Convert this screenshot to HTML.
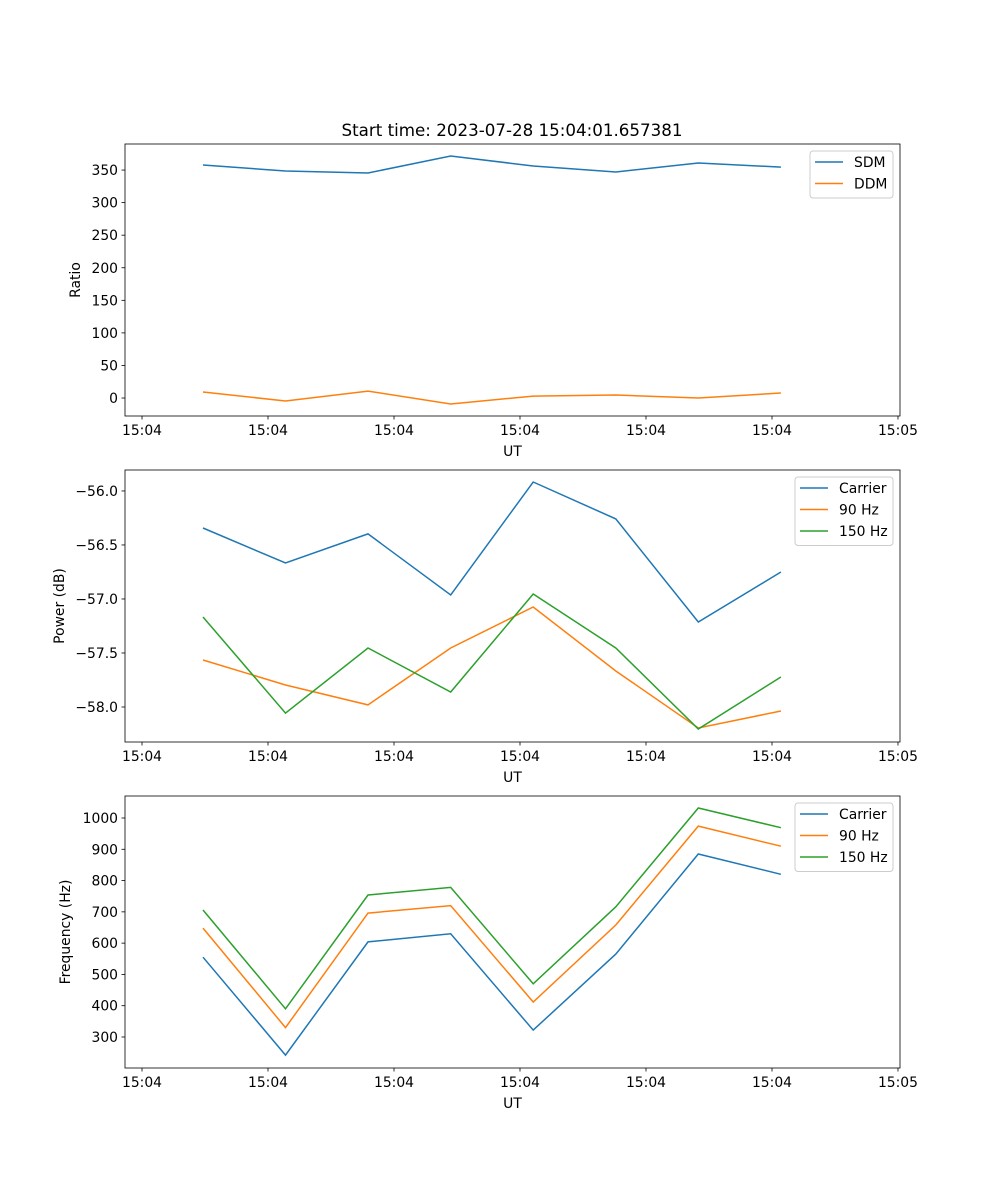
<!DOCTYPE html>
<html><head><meta charset="utf-8"><style>
body{margin:0;background:#fff}
svg{display:block;font-family:"DejaVu Sans","Liberation Sans",sans-serif}
</style></head><body>
<svg id="fig" width="1000" height="1200" xmlns="http://www.w3.org/2000/svg"></svg>
<script>
const times=[0.484,1.139,1.794,2.45,3.105,3.76,4.415,5.071];
const xTickVals=[0,1,2,3,4,5,6];
const xTickLabels=["15:04","15:04","15:04","15:04","15:04","15:04","15:05"];
const sdm=[357.7,348.5,345.4,371.5,356.2,347,360.8,354.6];
const ddm=[9.2,-4.6,10.7,-9.2,3,4.6,0,7.7];
const pCarrier=[-56.343,-56.667,-56.398,-56.963,-55.917,-56.259,-57.213,-56.75];
const p90=[-57.565,-57.796,-57.981,-57.454,-57.074,-57.667,-58.194,-58.037];
const p150=[-57.167,-58.056,-57.454,-57.861,-56.954,-57.454,-58.204,-57.722];
const fCarrier=[555,242,604,630,322,565,885,820];
const f90=[648,330,696,720,412,658,974,910];
const f150=[706,390,754,778,470,716,1032,969];
const ratioTicks=[0,50,100,150,200,250,300,350];
const powerTicks=[-58.0,-57.5,-57.0,-56.5,-56.0];
const freqTicks=[300,400,500,600,700,800,900,1000];

const NS="http://www.w3.org/2000/svg";
const fig=document.getElementById('fig');
function el(tag,attrs,parent,text){const e=document.createElementNS(NS,tag);for(const k in attrs)e.setAttribute(k,attrs[k]);if(text!==undefined)e.textContent=text;(parent||fig).appendChild(e);return e;}
const L=125,R=900,xmin=-0.135,xmax=6.016;
const sx=v=>L+(v-xmin)/(xmax-xmin)*(R-L);
const C=["#1f77b4","#ff7f0e","#2ca02c"];
const FS=13.9;

function panel(name,top,bot,ymin,ymax,yt,fmt,ylabel,series,names,leg){
  const g=el('g',{});
  
  
  const sy=v=>bot-(v-ymin)/(ymax-ymin)*(bot-top);
  series.forEach((s,i)=>{
    const pl=el('polyline',{points:s.map((v,j)=>sx(times[j]).toFixed(1)+','+sy(v).toFixed(1)).join(' '),fill:'none',stroke:C[i],'stroke-width':1.5},g);
    
    
  });
  const fr=el('rect',{x:L,y:top,width:R-L,height:bot-top,fill:'none',stroke:'#000','stroke-width':0.8},g);
  
  
  xTickVals.forEach((v,i)=>{
    const x=sx(v);
    el('line',{x1:x,x2:x,y1:bot,y2:bot+3.5,stroke:'#000','stroke-width':0.8},g);
    const t=el('text',{x:x,y:bot+19,'text-anchor':'middle','font-size':FS},g,xTickLabels[i]);
    
    
  });
  yt.forEach(v=>{
    const y=sy(v);
    el('line',{x1:L,x2:L-3.5,y1:y,y2:y,stroke:'#000','stroke-width':0.8},g);
    const t=el('text',{x:L-7,y:y+5,'text-anchor':'end','font-size':FS},g,fmt(v));
    
    
  });
  const xl=el('text',{x:(L+R)/2,y:bot+40,'text-anchor':'middle','font-size':FS},g,'UT');
  
  
  const cy=(top+bot)/2;
  const yl=el('text',{x:leg.yx,y:cy,'text-anchor':'middle','font-size':FS,transform:'rotate(-90 '+leg.yx+' '+cy+')'},g,ylabel);
  
  
  const lg=el('g',{},g);
  
  
  el('rect',{x:leg.x,y:top+7,width:R-7-leg.x,height:names.length*21.5+4,rx:3,fill:'#fff','fill-opacity':0.8,stroke:'#ccc'},lg);
  names.forEach((n,i)=>{
    const y=top+18+i*21.5;
    el('line',{x1:leg.x+5,x2:leg.x+33,y1:y,y2:y,stroke:C[i],'stroke-width':1.5},lg);
    const t=el('text',{x:leg.x+44,y:y+5,'font-size':FS},lg,n);
    
    
  });
}
const ti=el('text',{x:512,y:136,'text-anchor':'middle','font-size':16.7},fig,'Start time: 2023-07-28 15:04:01.657381');


panel('ratio',144,416,-27.6,390,ratioTicks,v=>String(v),'Ratio',[sdm,ddm],['SDM','DDM'],{x:810,yx:80});
panel('power',470,742,-58.324,-55.806,powerTicks,v=>'\u2212'+Math.abs(v).toFixed(1),'Power (dB)',[pCarrier,p90,p150],['Carrier','90 Hz','150 Hz'],{x:795,yx:64});
panel('frequency',796,1068,200.9,1070.3,freqTicks,v=>String(v),'Frequency (Hz)',[fCarrier,f90,f150],['Carrier','90 Hz','150 Hz'],{x:795,yx:70});
</script>
</body></html>
